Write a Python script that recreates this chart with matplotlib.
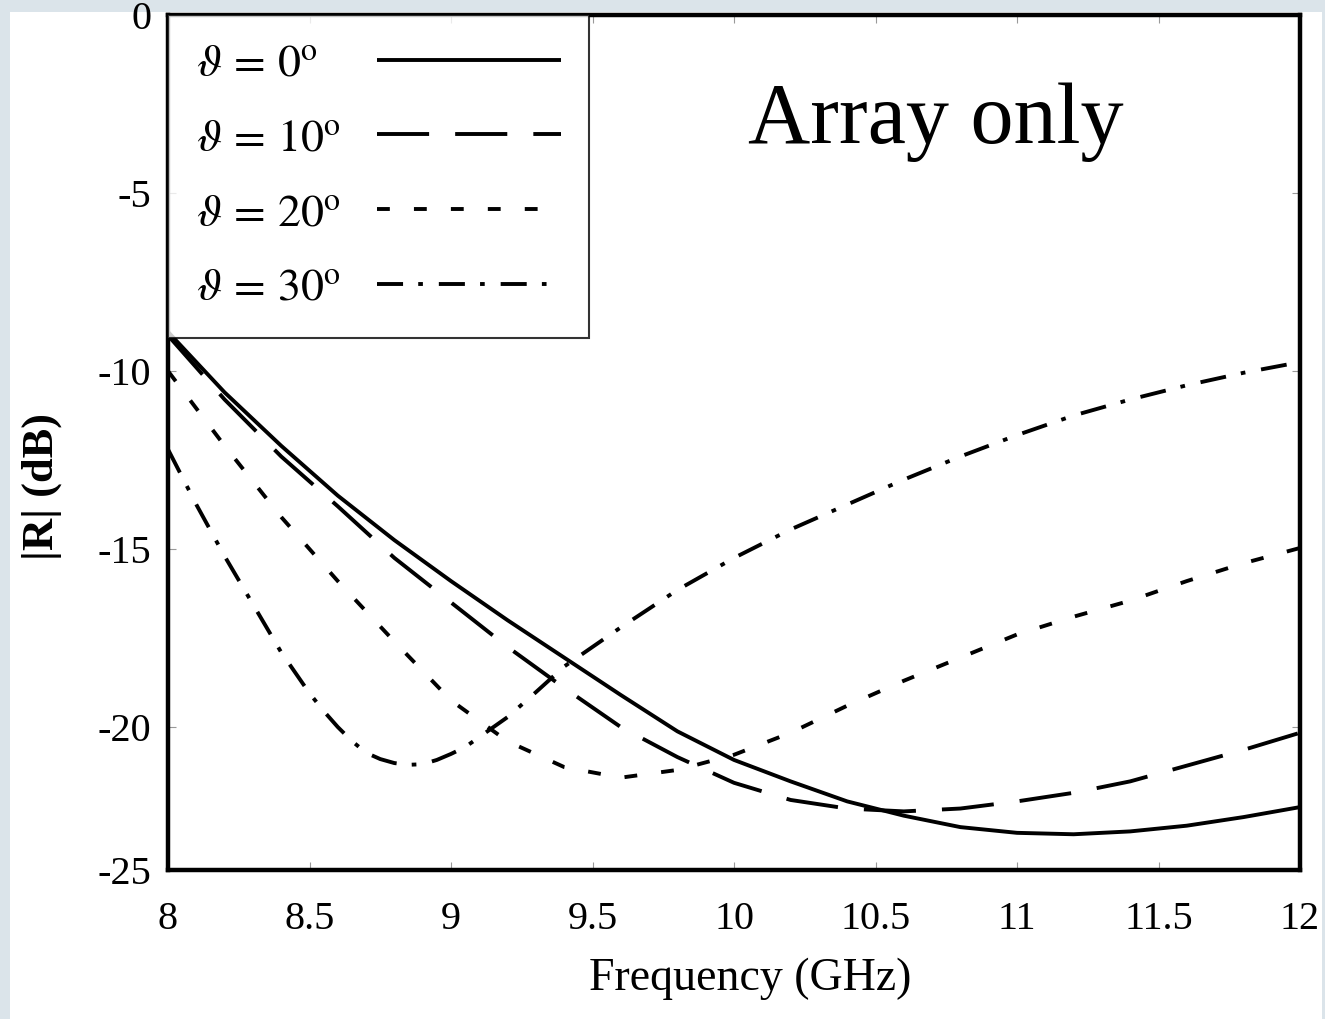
import numpy as np
import matplotlib
matplotlib.use("Agg")
import matplotlib.pyplot as plt
from matplotlib.patches import Rectangle

plt.rcParams['font.family'] = ['Liberation Serif', 'DejaVu Serif']
plt.rcParams['mathtext.fontset'] = 'stix'
plt.rcParams['axes.unicode_minus'] = False

# ---- data ----
freq_0 = [8.0, 8.2, 8.4, 8.6, 8.8, 9.0, 9.2, 9.4, 9.6, 9.8, 10.0, 10.2, 10.4,
          10.6, 10.8, 11.0, 11.2, 11.4, 11.6, 11.8, 12.0]
r_0 = [-8.9, -10.6, -12.1, -13.5, -14.75, -15.9, -17.0, -18.05, -19.1, -20.15, -21.15,
       -21.9, -22.6, -23.1, -23.5, -23.7, -23.75, -23.65, -23.45, -23.15, -22.8]

freq_10 = [8.0, 8.2, 8.4, 8.6, 8.8, 9.0, 9.2, 9.4, 9.6, 9.8, 10.0, 10.2, 10.4,
           10.6, 10.8, 11.0, 11.2, 11.4, 11.6, 11.8, 12.0]
r_10 = [-9.0, -10.8, -12.4, -13.8, -15.25, -16.5, -17.75, -18.9, -20.0, -21.05, -21.95,
        -22.55, -22.85, -22.95, -22.85, -22.6, -22.3, -21.9, -21.35, -20.8, -20.2]

freq_20 = [8.0, 8.2, 8.4, 8.6, 8.8, 9.0, 9.2, 9.4, 9.6, 9.8, 10.0, 10.2, 10.4,
           10.6, 10.8, 11.0, 11.2, 11.4, 11.6, 11.8, 12.0]
r_20 = [-10.0, -12.1, -14.1, -15.9, -17.6, -19.25, -20.5, -21.4, -21.77, -21.5, -20.97,
        -20.2, -19.4, -18.7, -18.05, -17.4, -16.9, -16.45, -15.9, -15.4, -14.97]

freq_30 = [8.0, 8.1, 8.2, 8.3, 8.4, 8.5, 8.55, 8.6, 8.65, 8.7, 8.75, 8.8, 8.85, 8.9,
           8.95, 9.0, 9.05, 9.1, 9.2, 9.3, 9.4, 9.6, 9.8, 10.0, 10.2, 10.4, 10.6, 10.8,
           11.0, 11.2, 11.4, 11.6, 11.8, 12.0]
r_30 = [-12.2, -13.75, -15.2, -16.55, -17.9, -19.05, -19.55, -20.0, -20.49, -20.9, -21.12,
        -21.26, -21.32, -21.3, -21.15, -20.94, -20.7, -20.35, -19.72, -19.02, -18.3,
        -17.2, -16.15, -15.25, -14.45, -13.75, -13.05, -12.4, -11.8, -11.25, -10.8,
        -10.4, -10.05, -9.75]

labels = [r'$\vartheta\,=\,0^{\mathrm{o}}$', r'$\vartheta\,=\,10^{\mathrm{o}}$',
          r'$\vartheta\,=\,20^{\mathrm{o}}$', r'$\vartheta\,=\,30^{\mathrm{o}}$']
x_ticks = [8, 8.5, 9, 9.5, 10, 10.5, 11, 11.5, 12]
x_ticklabels = ['8', '8.5', '9', '9.5', '10', '10.5', '11', '11.5', '12']
y_ticks = [0, -5, -10, -15, -20, -25]
y_ticklabels = ['0', '-5', '-10', '-15', '-20', '-25']

# ---- figure ----
W, H = 1325, 1019
fig = plt.figure(figsize=(W / 100, H / 100), dpi=100, facecolor='#dbe4ea')
fig.patches.append(Rectangle((10 / W, 0), (1322 - 10) / W, (H - 12) / H,
                             transform=fig.transFigure, facecolor='white',
                             edgecolor='none', zorder=-10))

ax = fig.add_axes([168 / W, 1 - 870 / H, (1300 - 168) / W, (870 - 15) / H])
ax.set_facecolor('white')

# the reference's y axis is compressed below -20 dB
K = 0.803
def fwd(y):
    y = np.asarray(y, dtype=float)
    return np.where(y >= -20, y, -20 + (y + 20) * K)
def inv(v):
    v = np.asarray(v, dtype=float)
    return np.where(v >= -20, v, -20 + (v + 20) / K)
ax.set_yscale('function', functions=(fwd, inv))

lw = 2.8
ax.plot(freq_0, r_0, color='black', lw=lw, linestyle='-', label=labels[0],
        solid_capstyle='butt')
ax.plot(freq_10, r_10, color='black', lw=lw, linestyle=(0, (13.4, 6.7)), label=labels[1])
ax.plot(freq_20, r_20, color='black', lw=lw, linestyle=(0, (3.3, 6.2)), label=labels[2])
ax.plot(freq_30, r_30, color='black', lw=lw, linestyle=(0, (6.7, 3.9, 1.2, 4.1)),
        label=labels[3])

ax.set_xlim(8, 12)
ax.set_ylim(-25, 0)
ax.set_xticks(x_ticks)
ax.set_xticklabels(x_ticklabels)
ax.set_yticks(y_ticks)
ax.set_yticklabels(y_ticklabels)
ax.minorticks_off()
ax.tick_params(axis='both', direction='in', length=6, width=0.8, color='#999999',
               labelsize=29, top=True, right=True)
ax.tick_params(axis='x', pad=22)
ax.tick_params(axis='y', pad=12)

for s in ax.spines.values():
    s.set_linewidth(3.2)
    s.set_color('black')

ax.set_xlabel('Frequency (GHz)', fontsize=33)
ax.xaxis.set_label_coords((750 - 168) / (1300 - 168), -0.102)
ax.set_ylabel('|R| (dB)', fontsize=32, fontweight='bold')
ax.yaxis.set_label_coords((62 - 168) / (1300 - 168), 1 - (486 - 15) / (870 - 15))

leg = ax.legend(loc='upper left', fontsize=33, markerfirst=False, frameon=True,
                fancybox=False, borderaxespad=0, borderpad=0.62, labelspacing=0.70,
                handlelength=4.0, handletextpad=0.79)
leg.get_frame().set_edgecolor('black')
leg.get_frame().set_linewidth(1.5)

# left-align the label texts and line up the line samples in one column
fig.canvas.draw()
r = fig.canvas.get_renderer()
texts = leg.get_texts()
widths = [t.get_window_extent(r).width for t in texts]
wmax = max(widths)
for col in leg._legend_handle_box.get_children():
    col.align = 'left'
    for row in col.get_children():
        txtbox = row.get_children()[0]
        w = txtbox.get_window_extent(r).width
        extra = wmax - w
        row.sep = leg.handletextpad * leg._fontsize * r.points_to_pixels(1.0) + extra
        row.sep = row.sep / r.points_to_pixels(1.0)

ax.text(0.678, 0.875, 'Array only', transform=ax.transAxes, fontsize=62,
        ha='center', va='center', family=['Liberation Serif', 'DejaVu Serif'])

fig.savefig('out.png', dpi=100, facecolor=fig.get_facecolor())
